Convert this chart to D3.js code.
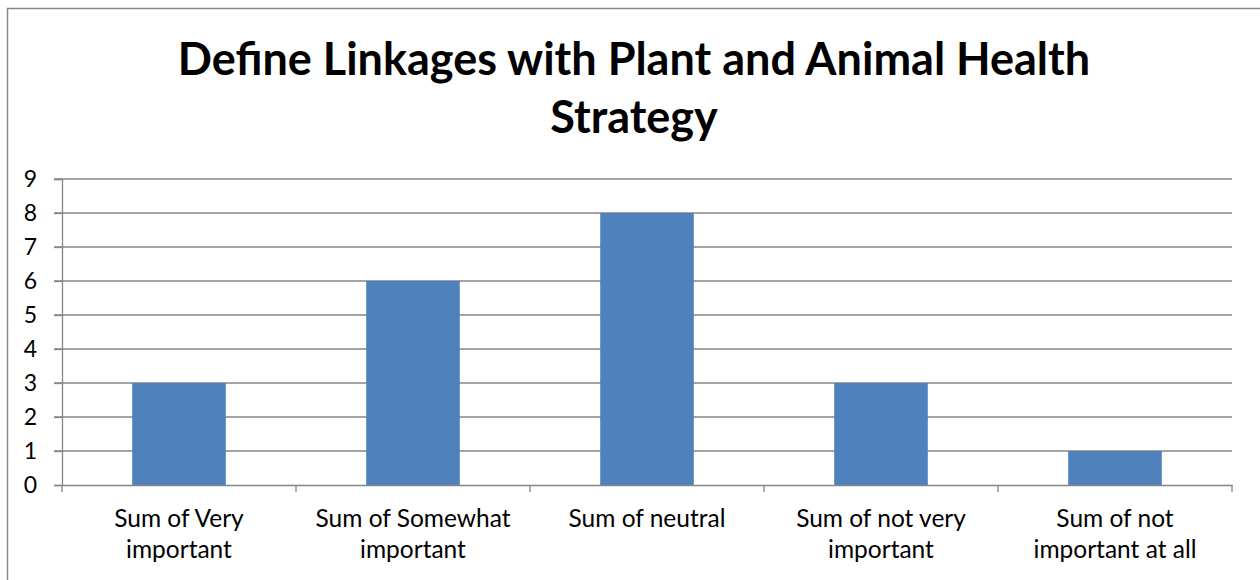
<!DOCTYPE html>
<html><head><meta charset="utf-8">
<script src="https://cdn.jsdelivr.net/npm/d3@7"></script>
<style>body{margin:0;background:#fff}svg{display:block}</style>
</head><body>
<svg id="c" width="1260" height="580"></svg>
<script>
const categories = ["Sum of Very important","Sum of Somewhat important","Sum of neutral","Sum of not very important","Sum of not important at all"];
const labelLines = [["Sum of Very","important"],["Sum of Somewhat","important"],["Sum of neutral"],["Sum of not very","important"],["Sum of not","important at all"]];
const values = [3,6,8,3,1];
const yTicks = [0,1,2,3,4,5,6,7,8,9];
const titleLines = ["Define Linkages with Plant and Animal Health","Strategy"];

const font = "Lato, 'Open Sans', sans-serif";
const svg = d3.select("#c");
svg.append("rect").attr("x",7.5).attr("y",8.5).attr("width",1260).attr("height",600)
  .attr("fill","#fff").attr("stroke","#868686").attr("stroke-width",1.5);

const L=62,R=1232,T=179,B=485;
const x = d3.scaleBand().domain(categories).range([L,R]).paddingInner(0).paddingOuter(0);
const y = d3.scaleLinear().domain([0,9]).range([B,T]);

// gridlines
svg.append("g").selectAll("line").data(yTicks.filter(d=>d>0)).join("line")
  .attr("x1",L-8).attr("x2",R).attr("y1",d=>y(d)).attr("y2",d=>y(d))
  .attr("stroke","#868686").attr("stroke-width",1.3);

// bars
const bw = x.bandwidth()/2.5;
svg.append("g").selectAll("rect").data(values).join("rect")
  .attr("x",(d,i)=>x(categories[i])+x.bandwidth()/2-bw/2)
  .attr("width",bw)
  .attr("y",d=>y(d)).attr("height",d=>B-y(d))
  .attr("fill","#4F81BD");

// y axis
const ya = svg.append("g").attr("transform",`translate(${L},0)`)
  .call(d3.axisLeft(y).tickValues(yTicks).tickSize(8).tickPadding(17));
ya.select(".domain").attr("stroke","#868686").attr("stroke-width",1.3);
ya.selectAll("line").attr("stroke","#868686").attr("stroke-width",1.3);
ya.selectAll("text").attr("font-family",font).attr("font-size",23).attr("fill","#000");

// x axis
const xa = svg.append("g").attr("transform",`translate(0,${B})`)
  .call(d3.axisBottom(x).tickValues([]).tickSizeOuter(0));
xa.select(".domain").attr("stroke","#868686").attr("stroke-width",1.3);
const bounds = categories.map(c=>x(c)).concat([R]);
xa.selectAll(".tk").data(bounds).join("line").attr("class","tk")
  .attr("x1",d=>d).attr("x2",d=>d).attr("y1",0).attr("y2",7)
  .attr("stroke","#868686").attr("stroke-width",1.3);

const xl = svg.append("g");
labelLines.forEach((lines,i)=>{
  const cx = x(categories[i])+x.bandwidth()/2;
  lines.forEach((t,j)=>{
    xl.append("text").attr("x",cx).attr("y",527+j*31).attr("text-anchor","middle")
      .attr("font-family",font).attr("font-size",24.5).attr("fill","#000").text(t);
  });
});

// title
titleLines.forEach((t,i)=>{
  svg.append("text").attr("x",634).attr("y",75+i*58).attr("text-anchor","middle")
    .attr("font-family",font).attr("font-weight","bold").attr("font-size",45).attr("fill","#000").text(t);
});
</script>
</body></html>
